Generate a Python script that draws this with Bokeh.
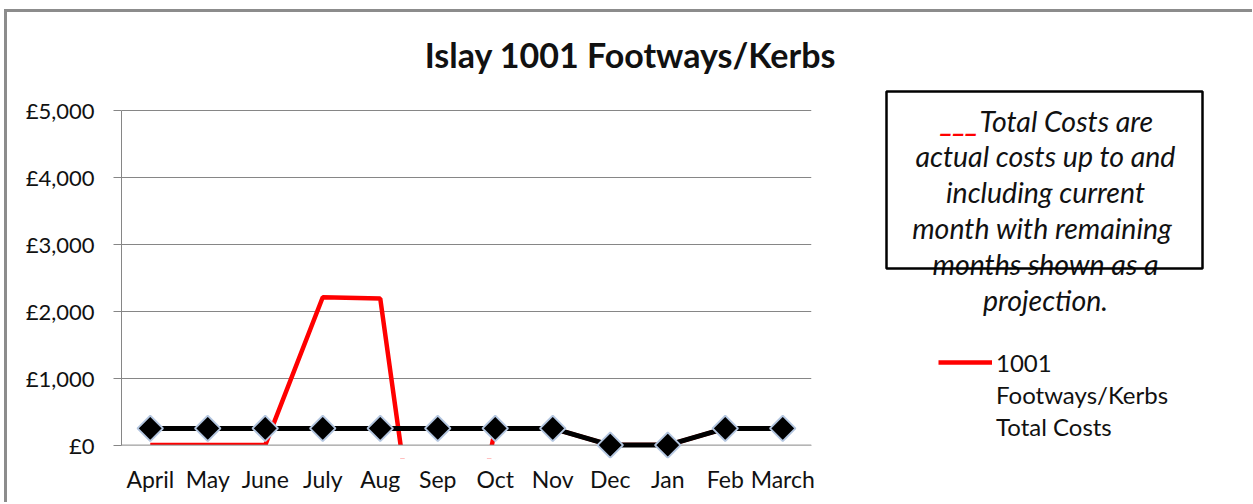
import math
from bokeh.plotting import figure
from bokeh.layouts import column, row
from bokeh.models import (FactorRange, Range1d, FixedTicker, Label, BoxAnnotation,
                          Legend, LegendItem)
from bokeh.embed import file_html
from bokeh.resources import INLINE

# ---------------- data ----------------
months = ["April", "May", "June", "July", "Aug", "Sep", "Oct", "Nov", "Dec", "Jan", "Feb", "March"]
total_costs = [0, 0, 0, 2210, 2190, -4000, 250, 250, 0, 0, 250, 250]
profile = [250, 250, 250, 250, 250, 250, 250, 250, 0, 0, 250, 250]
y_ticks = [0, 1000, 2000, 3000, 4000, 5000]
y_tick_labels = ["£0", "£1,000", "£2,000", "£3,000", "£4,000", "£5,000"]
title_text = "Islay 1001 Footways/Kerbs"
note_marker = "___"
note_first = "Total Costs are"
note_lines = ["actual costs up to and", "including current", "month with  remaining",
              "months shown as a", "projection."]
legend_lines = ["1001", "Footways/Kerbs", "Total Costs"]

FONT = "Lato"
GRID = "#868686"
TXT = "#111111"

# layout geometry (page pixels): whole chart starts at x=7, y=12
X0, Y0 = 7, 12
TOTAL_W = 1245
TOP_H = 76
BOT_H = 414
MAIN_W = 840
RIGHT_W = TOTAL_W - MAIN_W
BOTTOM_BORDER = 44
FRAME_TOP = Y0 + TOP_H                 # 88
FRAME_BOTTOM = FRAME_TOP + BOT_H - BOTTOM_BORDER   # 458


def blank(width, height, xr, yr, **kw):
    f = figure(width=width, height=height, x_axis_type=None, y_axis_type=None,
               x_range=xr, y_range=yr, output_backend="svg", toolbar_location=None, **kw)
    f.outline_line_color = None
    f.grid.visible = False
    f.background_fill_color = "white"
    f.border_fill_color = "white"
    return f


# ---------------- title strip ----------------
top = blank(TOTAL_W, TOP_H, Range1d(X0, X0 + TOTAL_W), Range1d(Y0 + TOP_H, Y0), min_border=0)
top.add_layout(Label(x=630, y=54, text=title_text, text_align="center",
                     text_baseline="middle", text_font=FONT, text_font_style="bold",
                     text_font_size="34px", text_color=TXT))

# ---------------- main chart ----------------
# frame spans page y 88..458; 0 sits at y=444.6 and 5,000 at y=110
p = figure(width=MAIN_W, height=BOT_H, x_range=FactorRange(*months),
           y_range=Range1d(-200, 5329), output_backend="svg", toolbar_location=None,
           min_border_left=114, min_border_right=36, min_border_top=0,
           min_border_bottom=BOTTOM_BORDER)
p.outline_line_color = None
p.background_fill_color = "white"
p.border_fill_color = "white"

p.xgrid.grid_line_color = None
p.ygrid.ticker = FixedTicker(ticks=y_ticks)
p.ygrid.grid_line_color = GRID
p.ygrid.grid_line_width = 1

yax = p.yaxis[0]
yax.ticker = FixedTicker(ticks=y_ticks)
yax.major_label_overrides = dict(zip(y_ticks, y_tick_labels))
yax.bounds = (0, 5000)
yax.axis_line_color = GRID
yax.major_tick_line_color = GRID
yax.major_tick_out = 8
yax.major_tick_in = 0
yax.minor_tick_line_color = None
yax.major_label_text_font = FONT
yax.major_label_text_font_size = "22px"
yax.major_label_text_color = TXT
yax.major_label_standoff = 19

xax = p.xaxis[0]
xax.axis_line_color = None
xax.major_tick_line_color = None
xax.minor_tick_line_color = None
xax.major_label_text_font = FONT
xax.major_label_text_font_size = "23px"
xax.major_label_text_color = TXT
xax.major_label_standoff = 0

red = p.line(months, total_costs, line_color="#ff0000", line_width=4.5)
# white mask below zero (the original clips the series at the axis)
p.quad(left=[0], right=[len(months)], bottom=[-2000], top=[0], fill_color="white",
       line_color=None)
p.segment(x0=[0], x1=[len(months)], y0=[0], y1=[0], line_color=GRID, line_width=1)
p.line(months, profile, line_color="black", line_width=5)
p.scatter(months, profile, marker="square", angle=math.pi / 4, size=18,
          fill_color="black", line_color="#b4c6e0", line_width=2)

# ---------------- right panel: note box and legend ----------------
rx0 = X0 + MAIN_W
side = blank(RIGHT_W, BOT_H, Range1d(rx0, rx0 + RIGHT_W), Range1d(FRAME_BOTTOM, FRAME_TOP),
             min_border_left=0, min_border_right=0, min_border_top=0,
             min_border_bottom=BOTTOM_BORDER)

base = 120
step = 35.8
NOTE_SIZE = "28.5px"
side.add_layout(Label(x=978, y=base, text=note_marker, text_align="right",
                      text_baseline="alphabetic", text_font=FONT,
                      text_font_style="bold italic",
                      text_font_size=NOTE_SIZE, text_color="#ff0000"))
side.add_layout(Label(x=979, y=base, text=note_first, text_align="left",
                      text_baseline="alphabetic", text_font=FONT, text_font_style="italic",
                      text_font_size=NOTE_SIZE, text_color=TXT))
for i, line in enumerate(note_lines):
    side.add_layout(Label(x=1045, y=base + step * (i + 1), text=line, text_align="center",
                          text_baseline="alphabetic", text_font=FONT, text_font_style="italic",
                          text_font_size=NOTE_SIZE, text_color=TXT))
side.add_layout(BoxAnnotation(left=886, right=1202, top=91, bottom=268,
                              fill_alpha=0, line_color="black", line_alpha=1, line_width=2.5))

nan = float("nan")
sample = side.line(x=[nan, nan], y=[nan, nan], line_color="#ff0000", line_width=4.5)
no_glyph = side.line(x=[nan, nan], y=[nan, nan], line_alpha=0)
items = [LegendItem(label=legend_lines[0], renderers=[sample])]
items += [LegendItem(label=t, renderers=[no_glyph]) for t in legend_lines[1:]]
legend = Legend(items=items,
                location=(938 - rx0, 16), padding=0, margin=0, spacing=0,
                glyph_width=54, glyph_height=32, label_standoff=4,
                label_text_font=FONT, label_text_font_size="24px",
                label_text_color=TXT,
                border_line_alpha=0, background_fill_alpha=0)
side.add_layout(legend)

layout = column(top, row(p, side))
layout.styles = {"border-top": "3px solid #8c8c8c", "border-left": "3px solid #8c8c8c",
                 "margin-left": "4px", "margin-top": "9px"}

open("out.html", "w").write(file_html(layout, INLINE))
